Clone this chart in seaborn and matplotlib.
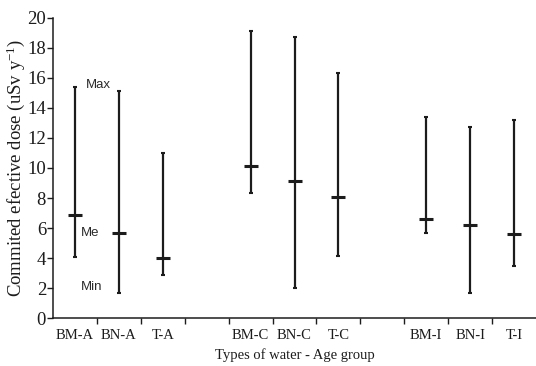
import numpy as np
import pandas as pd
import matplotlib
matplotlib.use("Agg")
import matplotlib.pyplot as plt
import seaborn as sns

groups = ["BM-A", "BN-A", "T-A", "BM-C", "BN-C", "T-C", "BM-I", "BN-I", "T-I"]
dose_max = [15.4, 15.1, 11.0, 19.1, 18.7, 16.3, 13.4, 12.7, 13.2]
dose_med = [6.9, 5.7, 4.0, 10.1, 9.1, 8.1, 6.6, 6.2, 5.6]
dose_min = [4.1, 1.65, 2.85, 8.35, 2.0, 4.15, 5.7, 1.65, 3.5]

# three groups of three, one empty slot between groups
pos = [i + i // 3 for i in range(len(groups))]
df = pd.DataFrame({"group": groups, "pos": pos, "max": dose_max,
                   "med": dose_med, "min": dose_min})

sns.set_style("ticks")
plt.rcParams["font.family"] = ["Liberation Serif", "DejaVu Serif"]
plt.rcParams["mathtext.fontset"] = "custom"
plt.rcParams["mathtext.rm"] = "Liberation Serif"
plt.rcParams["mathtext.it"] = "Liberation Serif:italic"
ink = "#1c1c1c"

fig = plt.figure(figsize=(5.36, 3.66), dpi=100)
ax = fig.add_axes([0.099, 0.131, 0.901, 0.82])

ax.vlines(df["pos"], df["min"], df["max"], color=ink, lw=1.6)
sns.scatterplot(data=df, x="pos", y="max", marker="_", s=12, linewidth=1.5,
                color=ink, ax=ax, legend=False)
sns.scatterplot(data=df, x="pos", y="min", marker="_", s=12, linewidth=1.5,
                color=ink, ax=ax, legend=False)
sns.scatterplot(data=df, x="pos", y="med", marker="_", s=110, linewidth=2.2,
                color=ink, ax=ax, legend=False)

ax.set_xlim(-0.5, 10.5)
ax.set_ylim(0, 20)
ax.set_yticks(np.arange(0, 21, 2))
ax.set_xticks(df["pos"])
ax.set_xticklabels(groups)
ax.set_xticks(np.arange(0.5, 10, 1), minor=True)
ax.tick_params(axis="x", which="major", length=0, pad=8, labelsize=10.5, colors=ink)
ax.tick_params(axis="x", which="minor", length=4, width=1, color=ink, direction="out")
ax.tick_params(axis="y", length=4, width=1, color=ink, labelsize=13.5, pad=1,
               labelcolor=ink)

for s in ["left", "bottom"]:
    ax.spines[s].set_color(ink)
    ax.spines[s].set_linewidth(1.1)
sns.despine(ax=ax)

ax.set_xlabel("Types of water - Age group", fontsize=10.5, color=ink, labelpad=4)
ax.set_ylabel("Commited efective dose (uSv y$^{\\mathrm{-1}}$)", fontsize=13.5,
              color=ink)
ax.yaxis.set_label_coords(-0.054, 0.5)

lab = dict(fontsize=9.5, color="#2a2a2a", family=["Liberation Sans", "DejaVu Sans"],
           va="center", ha="left")
ax.text(0.25, 15.55, "Max", **lab)
ax.text(0.14, 5.7, "Me", **lab)
ax.text(0.14, 2.05, "Min", **lab)

fig.savefig("out.png", dpi=100)
